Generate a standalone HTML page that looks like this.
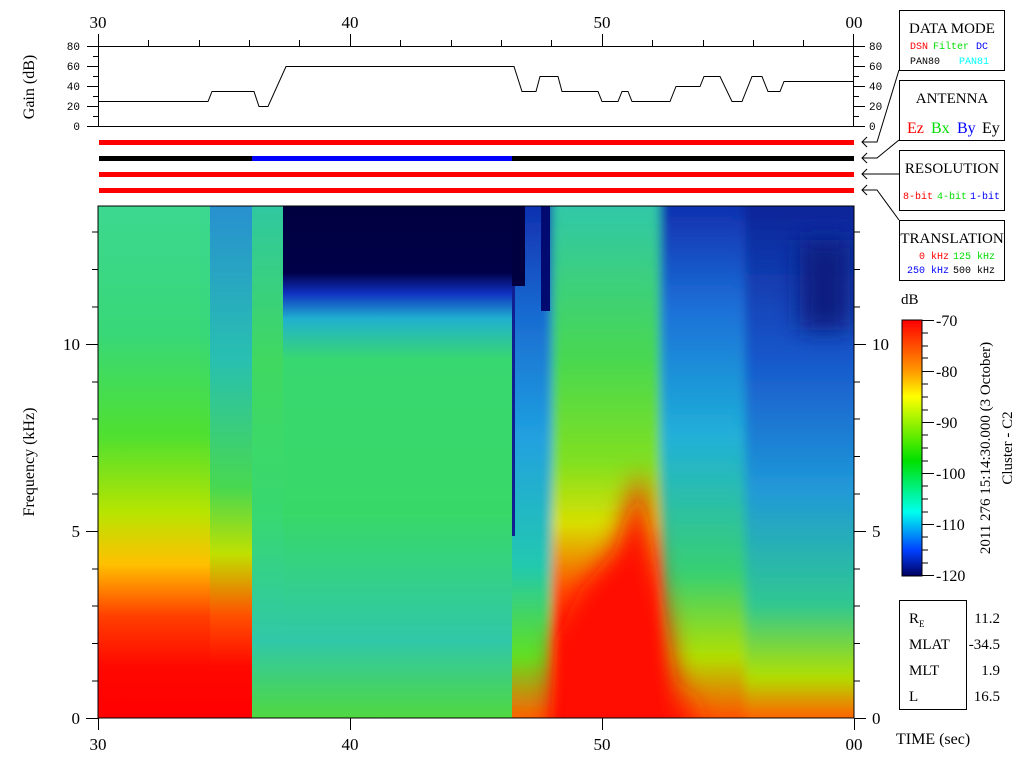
<!DOCTYPE html>
<html><head><meta charset="utf-8"><style>
html,body{margin:0;padding:0;background:#fff;}
svg{display:block;}
.s{font-family:"Liberation Serif",serif;}
.m{font-family:"Liberation Mono",monospace;}
</style></head><body>
<svg width="1024" height="768" viewBox="0 0 1024 768" xmlns="http://www.w3.org/2000/svg">
<defs>
<linearGradient id="gL" x1="0" y1="206" x2="0" y2="718" gradientUnits="userSpaceOnUse">
<stop offset="0" stop-color="#3cd890"/><stop offset="0.25" stop-color="#38d878"/>
<stop offset="0.45" stop-color="#50e030"/><stop offset="0.6" stop-color="#b8e400"/>
<stop offset="0.7" stop-color="#ffc000"/><stop offset="0.8" stop-color="#ff4000"/>
<stop offset="0.9" stop-color="#ff0800"/><stop offset="1" stop-color="#ff0000"/></linearGradient>
<linearGradient id="gL2" x1="0" y1="206" x2="0" y2="718" gradientUnits="userSpaceOnUse">
<stop offset="0" stop-color="#2890d0"/><stop offset="0.3" stop-color="#28c0b0"/>
<stop offset="0.55" stop-color="#48d850"/><stop offset="0.68" stop-color="#c0e000"/>
<stop offset="0.8" stop-color="#ff5000"/><stop offset="0.9" stop-color="#ff0800"/><stop offset="1" stop-color="#ff0000"/></linearGradient>
<linearGradient id="gM" x1="0" y1="206" x2="0" y2="718" gradientUnits="userSpaceOnUse">
<stop offset="0" stop-color="#30c8a0"/><stop offset="0.3" stop-color="#40d860"/>
<stop offset="0.6" stop-color="#38d870"/><stop offset="0.85" stop-color="#30c8a8"/>
<stop offset="1" stop-color="#50d840"/></linearGradient>
<linearGradient id="gN" x1="0" y1="206" x2="0" y2="718" gradientUnits="userSpaceOnUse">
<stop offset="0" stop-color="#000040"/><stop offset="0.13" stop-color="#000048"/>
<stop offset="0.17" stop-color="#1030c0"/><stop offset="0.22" stop-color="#20b0d0"/>
<stop offset="0.3" stop-color="#38d870"/><stop offset="0.6" stop-color="#38d868"/>
<stop offset="0.85" stop-color="#30c8a8"/><stop offset="1" stop-color="#50d840"/></linearGradient>
<linearGradient id="gR1" x1="0" y1="206" x2="0" y2="718" gradientUnits="userSpaceOnUse">
<stop offset="0" stop-color="#1030b0"/><stop offset="0.2" stop-color="#1868d0"/>
<stop offset="0.45" stop-color="#20a0e0"/><stop offset="0.7" stop-color="#20c8b0"/>
<stop offset="0.88" stop-color="#60e020"/><stop offset="1" stop-color="#ff6000"/></linearGradient>
<linearGradient id="gR2" x1="0" y1="206" x2="0" y2="718" gradientUnits="userSpaceOnUse">
<stop offset="0" stop-color="#30c8a8"/><stop offset="0.3" stop-color="#48d850"/>
<stop offset="0.5" stop-color="#80e020"/><stop offset="0.62" stop-color="#d8e000"/>
<stop offset="0.75" stop-color="#ff5000"/><stop offset="0.85" stop-color="#ff1000"/><stop offset="1" stop-color="#ff0000"/></linearGradient>
<linearGradient id="gR3" x1="0" y1="206" x2="0" y2="718" gradientUnits="userSpaceOnUse">
<stop offset="0" stop-color="#1030b0"/><stop offset="0.2" stop-color="#1c70d8"/>
<stop offset="0.45" stop-color="#20b0d8"/><stop offset="0.72" stop-color="#38d070"/>
<stop offset="0.88" stop-color="#b0e000"/><stop offset="1" stop-color="#ff5000"/></linearGradient>
<linearGradient id="gR4" x1="0" y1="206" x2="0" y2="718" gradientUnits="userSpaceOnUse">
<stop offset="0" stop-color="#0c2498"/><stop offset="0.3" stop-color="#1858cc"/>
<stop offset="0.55" stop-color="#2098d8"/><stop offset="0.78" stop-color="#30c890"/>
<stop offset="0.92" stop-color="#b0e000"/><stop offset="1" stop-color="#ff6000"/></linearGradient>
<linearGradient id="cb" x1="0" y1="0" x2="0" y2="1">
<stop offset="0" stop-color="#ff0000"/><stop offset="0.2" stop-color="#ff9900"/>
<stop offset="0.3" stop-color="#ffff00"/><stop offset="0.55" stop-color="#00e000"/>
<stop offset="0.75" stop-color="#00ffee"/><stop offset="0.9" stop-color="#0040ff"/>
<stop offset="1" stop-color="#000060"/></linearGradient>
<filter id="bl" x="-20%" y="-20%" width="140%" height="140%"><feGaussianBlur stdDeviation="12"/></filter>
<filter id="bs" x="-20%" y="-20%" width="140%" height="140%"><feGaussianBlur stdDeviation="5"/></filter>
<clipPath id="sp"><rect x="98" y="206" width="756" height="512"/></clipPath>
<clipPath id="spR"><rect x="512" y="206" width="342" height="512"/></clipPath>
</defs>

<!-- spectrogram -->
<g clip-path="url(#sp)">
<rect x="98" y="206" width="112" height="512" fill="url(#gL)"/>
<rect x="210" y="206" width="42" height="512" fill="url(#gL2)"/>
<rect x="252" y="206" width="31" height="512" fill="url(#gM)"/>
<rect x="283" y="206" width="229" height="512" fill="url(#gN)"/>
</g>
<g clip-path="url(#spR)">
<g filter="url(#bs)">
<rect x="490" y="180" width="62" height="570" fill="url(#gR1)"/>
<rect x="552" y="180" width="108" height="570" fill="url(#gR2)"/>
<rect x="660" y="180" width="85" height="570" fill="url(#gR3)"/>
<rect x="745" y="180" width="130" height="570" fill="url(#gR4)"/>
</g>
<g filter="url(#bl)">
<path d="M548 760 L556 640 L580 590 L615 550 L640 470 L655 560 L670 640 L690 760 Z" fill="#ff1000"/>
<path d="M680 760 L690 680 L700 760 Z" fill="#ff2000"/>
<rect x="800" y="240" width="50" height="90" fill="#0a1c80"/>
</g>
<rect x="512" y="206" width="13" height="80" fill="#000040"/>
<rect x="512" y="286" width="3" height="250" fill="#102090"/>
<rect x="541" y="206" width="9" height="105" fill="#000a70"/>
</g>
<rect x="98" y="206" width="756" height="512" fill="none" stroke="#000" stroke-width="1"/>

<!-- spectrogram ticks left/right -->
<g stroke="#000" stroke-width="1">
<line x1="86" y1="718.5" x2="98" y2="718.5"/><line x1="86" y1="531.5" x2="98" y2="531.5"/><line x1="86" y1="344.5" x2="98" y2="344.5"/>
<line x1="854" y1="718.5" x2="866" y2="718.5"/><line x1="854" y1="531.5" x2="866" y2="531.5"/><line x1="854" y1="344.5" x2="866" y2="344.5"/>
<line x1="92" y1="681" x2="98" y2="681"/><line x1="92" y1="643.5" x2="98" y2="643.5"/><line x1="92" y1="606" x2="98" y2="606"/><line x1="92" y1="569" x2="98" y2="569"/>
<line x1="92" y1="494" x2="98" y2="494"/><line x1="92" y1="456.5" x2="98" y2="456.5"/><line x1="92" y1="419" x2="98" y2="419"/><line x1="92" y1="382" x2="98" y2="382"/>
<line x1="92" y1="307" x2="98" y2="307"/><line x1="92" y1="269.5" x2="98" y2="269.5"/><line x1="92" y1="232" x2="98" y2="232"/>
<line x1="854" y1="681" x2="860" y2="681"/><line x1="854" y1="643.5" x2="860" y2="643.5"/><line x1="854" y1="606" x2="860" y2="606"/><line x1="854" y1="569" x2="860" y2="569"/>
<line x1="854" y1="494" x2="860" y2="494"/><line x1="854" y1="456.5" x2="860" y2="456.5"/><line x1="854" y1="419" x2="860" y2="419"/><line x1="854" y1="382" x2="860" y2="382"/>
<line x1="854" y1="307" x2="860" y2="307"/><line x1="854" y1="269.5" x2="860" y2="269.5"/><line x1="854" y1="232" x2="860" y2="232"/>
<line x1="98.5" y1="718" x2="98.5" y2="730"/><line x1="350.5" y1="718" x2="350.5" y2="730"/><line x1="602.5" y1="718" x2="602.5" y2="730"/><line x1="854.5" y1="718" x2="854.5" y2="730"/>
</g>
<g class="s" font-size="17" text-anchor="end">
<text x="80" y="724">0</text><text x="80" y="537">5</text><text x="80" y="350">10</text>
</g>
<g class="s" font-size="17">
<text x="872" y="724">0</text><text x="872" y="537">5</text><text x="872" y="350">10</text>
</g>
<g class="s" font-size="17" text-anchor="middle">
<text x="98" y="750">30</text><text x="350" y="750">40</text><text x="602" y="750">50</text><text x="854" y="750">00</text>
<text x="98" y="28">30</text><text x="350" y="28">40</text><text x="602" y="28">50</text><text x="854" y="28">00</text>
</g>
<text class="s" font-size="16" transform="translate(34,462) rotate(-90)" text-anchor="middle">Frequency (kHz)</text>
<text class="s" font-size="16" x="896" y="744">TIME (sec)</text>

<!-- gain panel -->
<g stroke="#000" stroke-width="1" fill="none">
<line x1="87" y1="46.5" x2="865" y2="46.5"/>
<line x1="87" y1="126.5" x2="865" y2="126.5"/>
<line x1="98.5" y1="34" x2="98.5" y2="126"/>
<line x1="853.5" y1="34" x2="853.5" y2="126"/>
<line x1="148.5" y1="40" x2="148.5" y2="46"/><line x1="199.5" y1="40" x2="199.5" y2="46"/><line x1="249.5" y1="40" x2="249.5" y2="46"/><line x1="299.5" y1="40" x2="299.5" y2="46"/>
<line x1="350.5" y1="34" x2="350.5" y2="46"/>
<line x1="400.5" y1="40" x2="400.5" y2="46"/><line x1="451.5" y1="40" x2="451.5" y2="46"/><line x1="501.5" y1="40" x2="501.5" y2="46"/><line x1="551.5" y1="40" x2="551.5" y2="46"/>
<line x1="602.5" y1="34" x2="602.5" y2="46"/>
<line x1="652.5" y1="40" x2="652.5" y2="46"/><line x1="703.5" y1="40" x2="703.5" y2="46"/><line x1="753.5" y1="40" x2="753.5" y2="46"/><line x1="803.5" y1="40" x2="803.5" y2="46"/>
<line x1="93" y1="56.5" x2="98" y2="56.5"/><line x1="87" y1="66.5" x2="98" y2="66.5"/><line x1="93" y1="76.5" x2="98" y2="76.5"/><line x1="87" y1="86.5" x2="98" y2="86.5"/>
<line x1="93" y1="96.5" x2="98" y2="96.5"/><line x1="87" y1="106.5" x2="98" y2="106.5"/><line x1="93" y1="116.5" x2="98" y2="116.5"/>
<line x1="854" y1="56.5" x2="859" y2="56.5"/><line x1="854" y1="66.5" x2="865" y2="66.5"/><line x1="854" y1="76.5" x2="859" y2="76.5"/><line x1="854" y1="86.5" x2="865" y2="86.5"/>
<line x1="854" y1="96.5" x2="859" y2="96.5"/><line x1="854" y1="106.5" x2="865" y2="106.5"/><line x1="854" y1="116.5" x2="859" y2="116.5"/>
<polyline points="98,101.5 208,101.5 212,91.5 254,91.5 259,106.5 268,106.5 286,66.5 514,66.5 522,91.5 536,91.5 540,76.5 558,76.5 562,91.5 598,91.5 602,101.5 618,101.5 622,91.5 628,91.5 632,101.5 670,101.5 676,86.5 700,86.5 704,76.5 720,76.5 732,101.5 742,101.5 752,76.5 762,76.5 768,91.5 780,91.5 784,81.5 853,81.5"/>
</g>
<g class="m" font-size="11" text-anchor="end">
<text x="80" y="50">80</text><text x="80" y="70">60</text><text x="80" y="90">40</text><text x="80" y="110">20</text><text x="80" y="130">0</text>
</g>
<g class="m" font-size="11">
<text x="869" y="50">80</text><text x="869" y="70">60</text><text x="869" y="90">40</text><text x="869" y="110">20</text><text x="869" y="130">0</text>
</g>
<text class="s" font-size="16" transform="translate(34,87) rotate(-90)" text-anchor="middle">Gain (dB)</text>

<!-- bars -->
<rect x="99" y="140" width="755" height="5" fill="#ff0000"/>
<rect x="99" y="156" width="153" height="5" fill="#000"/>
<rect x="252" y="156" width="260" height="5" fill="#0000ff"/>
<rect x="512" y="156" width="342" height="5" fill="#000"/>
<rect x="99" y="172" width="755" height="5" fill="#ff0000"/>
<rect x="99" y="188" width="755" height="5" fill="#ff0000"/>

<!-- connectors -->
<g stroke="#000" stroke-width="1" fill="none">
<polyline points="899,70 877,142 862,142"/><polyline points="867,137 862,142 867,147"/>
<polyline points="899,140 877,158 862,158"/><polyline points="867,153 862,158 867,163"/>
<polyline points="899,174 862,174"/><polyline points="867,169 862,174 867,179"/>
<polyline points="899,220 877,190 862,190"/><polyline points="867,185 862,190 867,195"/>
<rect x="899.5" y="10.5" width="105" height="60"/>
<rect x="899.5" y="80.5" width="105" height="60"/>
<rect x="899.5" y="150.5" width="105" height="60"/>
<rect x="899.5" y="220.5" width="105" height="60"/>
</g>
<g class="s" font-size="15" text-anchor="middle">
<text x="952" y="33">DATA MODE</text>
<text x="952" y="103">ANTENNA</text>
<text x="952" y="173">RESOLUTION</text>
<text x="952" y="243">TRANSLATION</text>
</g>
<g class="m" font-size="10">
<text x="910" y="49" fill="#ff0000">DSN</text><text x="933" y="49" fill="#00dd00">Filter</text><text x="976" y="49" fill="#0000ff">DC</text>
<text x="910" y="64" fill="#000">PAN80</text><text x="959" y="64" fill="#00ffff">PAN81</text>
<text x="903" y="199" fill="#ff0000">8-bit</text><text x="937" y="199" fill="#00dd00">4-bit</text><text x="970" y="199" fill="#0000ff">1-bit</text>
<text x="919" y="259" fill="#ff0000">0 kHz</text><text x="953" y="259" fill="#00dd00">125 kHz</text>
<text x="907" y="273" fill="#0000ff">250 kHz</text><text x="953" y="273" fill="#000">500 kHz</text>
</g>
<g class="s" font-size="16">
<text x="907" y="133" fill="#ff0000">Ez</text><text x="931" y="133" fill="#00dd00">Bx</text><text x="957" y="133" fill="#0000ff">By</text><text x="982" y="133" fill="#000">Ey</text>
</g>

<!-- colorbar -->
<text class="s" font-size="15" x="901" y="304">dB</text>
<rect x="902" y="320" width="20" height="256" fill="url(#cb)" stroke="#000" stroke-width="1"/>
<g stroke="#000" stroke-width="1">
<line x1="922" y1="320.5" x2="934" y2="320.5"/><line x1="922" y1="371.5" x2="934" y2="371.5"/><line x1="922" y1="422.5" x2="934" y2="422.5"/>
<line x1="922" y1="473.5" x2="934" y2="473.5"/><line x1="922" y1="524.5" x2="934" y2="524.5"/><line x1="922" y1="575.5" x2="934" y2="575.5"/>
<line x1="922" y1="333" x2="928" y2="333"/><line x1="922" y1="346" x2="928" y2="346"/><line x1="922" y1="358" x2="928" y2="358"/>
<line x1="922" y1="384" x2="928" y2="384"/><line x1="922" y1="397" x2="928" y2="397"/><line x1="922" y1="410" x2="928" y2="410"/>
<line x1="922" y1="435" x2="928" y2="435"/><line x1="922" y1="448" x2="928" y2="448"/><line x1="922" y1="461" x2="928" y2="461"/>
<line x1="922" y1="486" x2="928" y2="486"/><line x1="922" y1="499" x2="928" y2="499"/><line x1="922" y1="512" x2="928" y2="512"/>
<line x1="922" y1="537" x2="928" y2="537"/><line x1="922" y1="550" x2="928" y2="550"/><line x1="922" y1="563" x2="928" y2="563"/>
</g>
<g class="s" font-size="16">
<text x="936" y="326">-70</text><text x="936" y="377">-80</text><text x="936" y="428">-90</text>
<text x="936" y="479">-100</text><text x="936" y="530">-110</text><text x="936" y="581">-120</text>
</g>
<text class="s" font-size="15" transform="translate(990,448) rotate(-90)" text-anchor="middle">2011 276 15:14:30.000 (3 October)</text>
<text class="s" font-size="15" transform="translate(1012,448) rotate(-90)" text-anchor="middle">Cluster - C2</text>

<!-- info box -->
<rect x="899.5" y="600.5" width="67" height="109" fill="none" stroke="#000"/>
<g class="s" font-size="15">
<text x="909" y="623">R</text><text x="919" y="627" font-size="9">E</text>
<text x="909" y="649">MLAT</text><text x="909" y="675">MLT</text><text x="909" y="701">L</text>
</g>
<g class="s" font-size="15" text-anchor="end">
<text x="1000" y="623">11.2</text><text x="1000" y="649">-34.5</text><text x="1000" y="675">1.9</text><text x="1000" y="701">16.5</text>
</g>
</svg>
</body></html>
